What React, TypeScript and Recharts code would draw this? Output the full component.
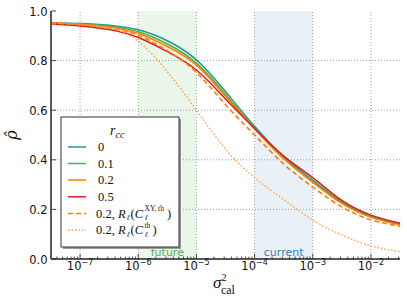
import { LineChart, Line, XAxis, YAxis, ReferenceArea, ReferenceLine } from "recharts";

// sigma_cal^2 sample points (log10 exponents)
const X_EXP = [-7.5, -7, -6.5, -6, -5.5, -5, -4.5, -4, -3.5, -3, -2.5, -2, -1.5];

// rho-hat
const RCC_0 = [0.953, 0.950, 0.943, 0.924, 0.880, 0.803, 0.675, 0.535, 0.412, 0.318, 0.230, 0.173, 0.140];
const RCC_01 = [0.952, 0.948, 0.939, 0.916, 0.867, 0.790, 0.664, 0.528, 0.407, 0.313, 0.227, 0.171, 0.139];
const RCC_02 = [0.952, 0.946, 0.935, 0.909, 0.857, 0.782, 0.656, 0.524, 0.404, 0.309, 0.224, 0.168, 0.137];
const RCC_05 = [0.949, 0.940, 0.925, 0.893, 0.836, 0.762, 0.645, 0.526, 0.415, 0.328, 0.236, 0.177, 0.144];
const RCC_02_XY = [0.952, 0.945, 0.932, 0.902, 0.840, 0.752, 0.622, 0.500, 0.383, 0.290, 0.210, 0.158, 0.132];
const RCC_02_TH = [0.952, 0.946, 0.932, 0.878, 0.755, 0.600, 0.443, 0.328, 0.240, 0.157, 0.097, 0.053, 0.030];

const DECADES = [-7, -6, -5, -4, -3, -2];
const Y_TICKS = [0, 0.2, 0.4, 0.6, 0.8, 1.0];
const Y_GRID = [0.2, 0.4, 0.6, 0.8];
const FUTURE = [1e-6, 1e-5];
const CURRENT = [1e-4, 1e-3];

const X_DOMAIN = [Math.pow(10, -7.5), Math.pow(10, -1.5)];

const data = X_EXP.map((e, i) => ({
  x: Math.pow(10, e),
  r0: RCC_0[i],
  r01: RCC_01[i],
  r02: RCC_02[i],
  r05: RCC_05[i],
  xy: RCC_02_XY[i],
  th: RCC_02_TH[i],
}));

// major + minor log ticks
const X_TICKS: number[] = [];
[-8, ...DECADES].forEach((d) => {
  for (let m = 1; m <= 9; m++) {
    const v = m * Math.pow(10, d);
    if (v >= X_DOMAIN[0] && v <= X_DOMAIN[1]) X_TICKS.push(v);
  }
});

const series = [
  { key: "r0", label: "0", color: "#1b9a9a", dash: undefined, width: 1.5 },
  { key: "r01", label: "0.1", color: "#4daf4a", dash: undefined, width: 1.5 },
  { key: "r02", label: "0.2", color: "#ff7f00", dash: undefined, width: 1.5 },
  { key: "r05", label: "0.5", color: "#e41a1c", dash: undefined, width: 1.5 },
  { key: "xy", label: "xy", color: "#ff7f00", dash: "5 3", width: 1.6 },
  { key: "th", label: "th", color: "#ffa040", dash: "1.5 2", width: 1.4 },
];

const isMajor = (v: number) => {
  const e = Math.log10(v);
  return Math.abs(e - Math.round(e)) < 1e-6;
};

const BottomTick = ({ x, y, payload }: any) => {
  const v = payload.value;
  const major = isMajor(v);
  return (
    <g>
      <line x1={x} x2={x} y1={y} y2={y - (major ? 5 : 2.5)} stroke="#222" strokeWidth={0.8} />
      {major && (
        <text x={x} y={y + 11} textAnchor="middle" fontFamily="DejaVu Sans" fontSize={11.5} fill="#111">
          10
          <tspan dy={-5} fontSize={8}>
            {"\u2212" + Math.abs(Math.round(Math.log10(v)))}
          </tspan>
        </text>
      )}
    </g>
  );
};

const TopTick = ({ x, y, payload }: any) => {
  const major = isMajor(payload.value);
  return <line x1={x} x2={x} y1={y} y2={y + (major ? 5 : 2.5)} stroke="#444" strokeWidth={0.8} />;
};

const LeftTick = ({ x, y, payload }: any) => (
  <g>
    <line x1={x} x2={x + 5} y1={y} y2={y} stroke="#222" strokeWidth={0.8} />
    <text x={x - 3.5} y={y + 4.5} textAnchor="end" fontFamily="DejaVu Sans" fontSize={11.5} fill="#111">
      {payload.value.toFixed(1)}
    </text>
  </g>
);

const RightTick = ({ x, y }: any) => (
  <line x1={x} x2={x - 5} y1={y} y2={y} stroke="#444" strokeWidth={0.8} />
);

const serif = "Liberation Serif";

// R_l(C_l^{sup}) drawn as separate pieces so the stacked scripts do not collide
function MathEntry({ x, y, sup }: { x: number; y: number; sup: string }) {
  const supW = sup === "th" ? 6.5 : 21;
  return (
    <g fontFamily={serif} fill="#111">
      <text x={x} y={y} fontSize={12.5}>
        0.2, <tspan fontStyle="italic">R</tspan>
      </text>
      <text x={x + 30.5} y={y + 2.5} fontSize={7.5} fontStyle="italic">ℓ</text>
      <text x={x + 34.5} y={y} fontSize={12.5}>
        (<tspan fontStyle="italic">C</tspan>
      </text>
      <text x={x + 48.5} y={y + 2.5} fontSize={7.5} fontStyle="italic">ℓ</text>
      <text x={x + 48.5} y={y - 6.5} fontSize={7.5}>{sup}</text>
      <text x={x + 50 + supW} y={y} fontSize={12.5}>)</text>
    </g>
  );
}

function LegendBox() {
  const rowY = [147, 163.5, 180, 196.8, 213.5, 230];
  return (
    <g>
      <rect x={63} y={119} width={118} height={130} fill="#999" />
      <rect x={61} y={117} width={118} height={130} fill="#fff" stroke="#333" strokeWidth={1} />
      <text x={110} y={135} fontFamily={serif} fontSize={14} fontStyle="italic" fill="#111">
        r
        <tspan dy={3} fontSize={10}>cc</tspan>
      </text>
      {series.map((s, i) => (
        <line
          key={s.key}
          x1={68}
          x2={86}
          y1={rowY[i]}
          y2={rowY[i]}
          stroke={s.color}
          strokeWidth={s.width}
          strokeDasharray={s.dash}
        />
      ))}
      {series.slice(0, 4).map((s, i) => (
        <text key={s.key} x={98} y={rowY[i] + 4} fontFamily={serif} fontSize={12.5} fill="#111">
          {s.label}
        </text>
      ))}
      <MathEntry x={96} y={rowY[4] + 4} sup="XY, th" />
      <MathEntry x={96} y={rowY[5] + 4} sup="th" />
    </g>
  );
}

export default function App() {
  return (
    <div style={{ position: "absolute", left: 0, top: 0, width: 407, height: 305, background: "#fff" }}>
      <LineChart width={407} height={305} data={data} margin={{ top: 11, right: 7, bottom: 0, left: 0 }}>
        <ReferenceArea
          x1={FUTURE[0]}
          x2={FUTURE[1]}
          fill="#4daf4a"
          fillOpacity={0.11}
          stroke="none"
          label={{ value: "future", position: "insideBottom", offset: 3, fill: "#4daf4a", fontSize: 11, fontFamily: "DejaVu Sans" }}
        />
        <ReferenceArea
          x1={CURRENT[0]}
          x2={CURRENT[1]}
          fill="#377eb8"
          fillOpacity={0.11}
          stroke="none"
          label={{ value: "current", position: "insideBottom", offset: 3, fill: "#377eb8", fontSize: 11, fontFamily: "DejaVu Sans" }}
        />
        {DECADES.map((d) => (
          <ReferenceLine key={"gx" + d} x={Math.pow(10, d)} stroke="#888" strokeWidth={0.8} strokeDasharray="1 2" />
        ))}
        {Y_GRID.map((v) => (
          <ReferenceLine key={"gy" + v} y={v} stroke="#888" strokeWidth={0.8} strokeDasharray="1 2" />
        ))}
        <XAxis
          dataKey="x"
          type="number"
          scale="log"
          domain={X_DOMAIN}
          ticks={X_TICKS}
          interval={0}
          height={46}
          tickSize={0}
          tickMargin={0}
          tickLine={false}
          axisLine={{ stroke: "#222", strokeWidth: 1.5 }}
          tick={(p: any) => <BottomTick {...p} />}
        />
        <XAxis
          xAxisId="top"
          orientation="top"
          dataKey="x"
          type="number"
          scale="log"
          domain={X_DOMAIN}
          ticks={X_TICKS}
          interval={0}
          height={0}
          tickSize={0}
          tickMargin={0}
          tickLine={false}
          axisLine={{ stroke: "#666", strokeWidth: 1.5 }}
          tick={(p: any) => <TopTick {...p} />}
        />
        <YAxis
          type="number"
          domain={[0, 1]}
          ticks={Y_TICKS}
          interval={0}
          width={51}
          tickSize={0}
          tickMargin={0}
          tickLine={false}
          axisLine={{ stroke: "#222", strokeWidth: 1.5 }}
          tick={(p: any) => <LeftTick {...p} />}
        />
        <YAxis
          yAxisId="right"
          orientation="right"
          type="number"
          domain={[0, 1]}
          ticks={Y_TICKS}
          interval={0}
          width={0}
          tickSize={0}
          tickMargin={0}
          tickLine={false}
          axisLine={{ stroke: "#888", strokeWidth: 2 }}
          tick={(p: any) => <RightTick {...p} />}
        />
        {series.map((s) => (
          <Line
            key={s.key}
            dataKey={s.key}
            type="natural"
            stroke={s.color}
            strokeWidth={s.width}
            strokeDasharray={s.dash}
            dot={false}
            activeDot={false}
            isAnimationActive={false}
          />
        ))}
      </LineChart>
      <svg width={407} height={305} style={{ position: "absolute", left: 0, top: 0, pointerEvents: "none" }}>
        <LegendBox />
        <text
          x={17}
          y={135}
          transform="rotate(-90 17 135)"
          textAnchor="middle"
          fontFamily="DejaVu Serif"
          fontStyle="italic"
          fontSize={16}
          fill="#111"
        >
          ρ̂
        </text>
        <text x={213} y={288} fontFamily={serif} fontSize={17} fill="#111">
          <tspan fontStyle="italic">σ</tspan>
          <tspan dy={-7} fontSize={10}>2</tspan>
          <tspan dx={-5.5} dy={13} fontSize={12}>cal</tspan>
        </text>
      </svg>
    </div>
  );
}
